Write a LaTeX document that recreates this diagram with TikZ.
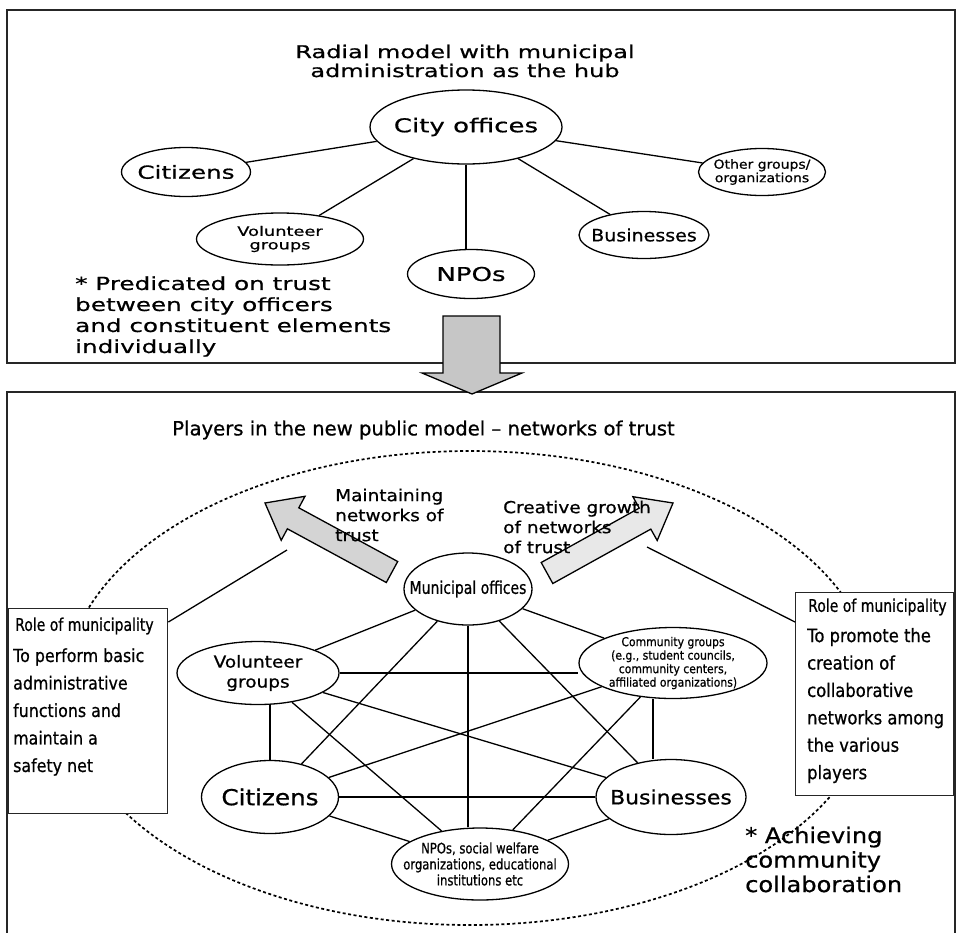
\documentclass[tikz,border=0pt]{standalone}
\usepackage{fontspec}
\setmainfont{DejaVu Sans}
\newfontfamily\fW[FakeStretch=1.37,FakeBold=0.7]{DejaVu Sans}
\newfontfamily\fM[FakeStretch=1.12,FakeBold=0.7]{DejaVu Sans}
\newfontfamily\fN[FakeStretch=0.88,FakeBold=0.7]{DejaVu Sans}
\newfontfamily\fC[FakeStretch=0.80,FakeBold=0.7]{DejaVu Sans}
\newfontfamily\fR[FakeBold=0.7]{DejaVu Sans}
\usetikzlibrary{shapes.geometric}
\definecolor{downfill}{HTML}{C6C6C6}
\definecolor{leftfill}{HTML}{D4D4D4}
\definecolor{rightfill}{HTML}{E8E8E8}
\begin{document}
\begin{tikzpicture}[x=1pt,y=-1pt,
  bub/.style={draw, ellipse, line width=1.3pt, fill=white, inner sep=-40pt, align=center},
  link/.style={line width=1.3pt},
  frame/.style={draw=black!85, line width=1.6pt},
  rolebox/.style={draw=black!85, line width=1.4pt, fill=white, inner sep=0pt, anchor=north west},
  lbl/.style={inner sep=0pt, align=left, anchor=west},
  blockarrow/.style={draw, line width=1.3pt, line join=miter},
  trustring/.style={line width=1.7pt, dash pattern=on 3pt off 2.5pt}
]
\useasboundingbox (0,0) rectangle (958,932);

% ---------- upper panel: radial model ----------
\draw[frame] (7,10) rectangle (955,363);

\node[font={\fW\fontsize{17.5}{19}\selectfont}, align=center, inner sep=0pt] (toptitle) at (465,61)
  {Radial model with municipal\\administration as the hub};

\node[bub, minimum width=192pt, minimum height=74pt, font={\fW\fontsize{19}{22}\selectfont}] (city) at (466,127) {City offices};
\node[bub, minimum width=129pt, minimum height=49pt, font={\fW\fontsize{18}{22}\selectfont}] (tcit) at (186,172) {Citizens};
\node[bub, minimum width=127pt, minimum height=47pt, font={\fM\fontsize{12.5}{13.5}\selectfont}] (tother) at (762,172) {Other groups/\\organizations};
\node[bub, minimum width=167pt, minimum height=52pt, font={\fW\fontsize{13}{13.5}\selectfont}] (tvol) at (280,239) {Volunteer\\groups};
\node[bub, minimum width=127pt, minimum height=49pt, font={\fW\fontsize{19}{22}\selectfont}] (tnpo) at (471,274) {NPOs};
\node[bub, minimum width=130pt, minimum height=47pt, font={\fM\fontsize{17}{20}\selectfont}] (tbus) at (644,235) {Businesses};

\draw[link] (city) -- (tcit);
\draw[link] (city) -- (tother);
\draw[link] (city) -- (tvol);
\draw[link] (city) -- (tbus);
\draw[link] (city.south) -- (city.south |- tnpo.north);

\node[lbl, font={\fW\fontsize{18}{21}\selectfont}] (premise) at (75,316.5)
  {* Predicated on trust\\between city officers\\and constituent elements\\individually};

% ---------- lower panel: network of trust ----------
\draw[frame] (7,940) -- (7,392) -- (955,392) -- (955,940);

% transition arrow between the panels
\draw[blockarrow, fill=downfill] (443,316) -- (500,316) -- (500,373) -- (522,373) -- (472,394)
  -- (422,373) -- (443,373) -- cycle;

\node[font={\fR\fontsize{19.6}{22}\selectfont}, inner sep=0pt] (bottitle) at (423.5,430)
  {Players in the new public model – networks of trust};

\draw[trustring] (470,688) ellipse [x radius=405, y radius=237];

% role boxes
\node[rolebox, minimum width=159pt, minimum height=205pt] (lbox) at (8,608) {};
\node[rolebox, minimum width=158pt, minimum height=203pt] (rbox) at (795,592) {};

\node[lbl, font={\fC\fontsize{17.5}{20}\selectfont}] (lrole) at (15,626) {Role of municipality};
\node[lbl, font={\fN\fontsize{18}{27.5}\selectfont}] (lbody) at (13,712)
  {To perform basic\\administrative\\functions and\\maintain a\\safety net};
\node[lbl, font={\fC\fontsize{17.5}{20}\selectfont}] (rrole) at (808,607) {Role of municipality};
\node[lbl, font={\fN\fontsize{18.6}{27.4}\selectfont}] (rbody) at (807,705.5)
  {To promote the\\creation of\\collaborative\\networks among\\the various\\players};

\coordinate (lend) at (287,550);
\coordinate (rend) at (647,547);
\draw[link] ([yshift=-14pt]lbox.north east) -- (lend);
\draw[link] (rend) -- ([yshift=-30pt]rbox.north west);

% growth arrows
\draw[blockarrow, fill=leftfill] (397.7,561.5) -- (298.8,507.8) -- (305.0,496.3) -- (265,503)
  -- (281.2,540.3) -- (287.4,528.8) -- (386.3,582.5) -- cycle;
\draw[blockarrow, fill=rightfill] (541.2,562.5) -- (639.2,508.1) -- (632.9,496.7) -- (673,503)
  -- (657.2,540.5) -- (650.8,529.1) -- (552.8,583.5) -- cycle;

\node[lbl, font={\fM\fontsize{16.5}{20}\selectfont}] (maintain) at (335,515) {Maintaining\\networks of\\trust};
\node[lbl, font={\fM\fontsize{16.5}{20}\selectfont}] (creative) at (503,527) {Creative growth\\of networks\\of trust};

% players
\node[bub, minimum width=128pt, minimum height=72pt, font={\fC\fontsize{17.5}{20}\selectfont}] (mun) at (468,589) {Municipal offices};
\node[bub, minimum width=162pt, minimum height=63pt, font={\fM\fontsize{16.5}{20}\selectfont}] (vol) at (258,673) {Volunteer\\groups};
\node[bub, minimum width=188pt, minimum height=71pt, font={\fN\fontsize{12.3}{13.5}\selectfont}] (com) at (673,663)
  {Community groups\\(e.g., student councils,\\community centers,\\affiliated organizations)};
\node[bub, minimum width=137pt, minimum height=73pt, font={\fM\fontsize{22}{24}\selectfont}] (cit) at (270,797) {Citizens};
\node[bub, minimum width=150pt, minimum height=75pt, font={\fM\fontsize{19.6}{22}\selectfont}] (bus) at (671,797) {Businesses};
\node[bub, minimum width=177pt, minimum height=72pt, font={\fC\fontsize{14.5}{16}\selectfont}] (npo) at (480,864)
  {NPOs, social welfare\\organizations, educational\\institutions etc};

% every pair of players is linked
\draw[link] (mun) -- (vol);
\draw[link] (mun) -- (com);
\draw[link] (mun) -- (cit);
\draw[link] (mun) -- (bus);
\draw[link] (mun.south) -- (mun.south |- npo.north);
\draw[link] (vol.east) -- (vol.east -| com.west);
\draw[link] (vol.south -| cit.north) -- (cit.north);
\draw[link] (vol) -- (bus);
\draw[link] (vol) -- (npo);
\draw[link] (com) -- (cit);
\draw[link] ([xshift=-20pt]com.south) -- ([xshift=-20pt]com.south |- bus.north);
\draw[link] (com) -- (npo);
\draw[link] (cit) -- (bus);
\draw[link] (cit) -- (npo);
\draw[link] (bus) -- (npo);

\node[lbl, font={\fM\fontsize{21.5}{24.5}\selectfont}] (achieve) at (745,859.5)
  {* Achieving\\community\\collaboration};
\end{tikzpicture}
\end{document}
